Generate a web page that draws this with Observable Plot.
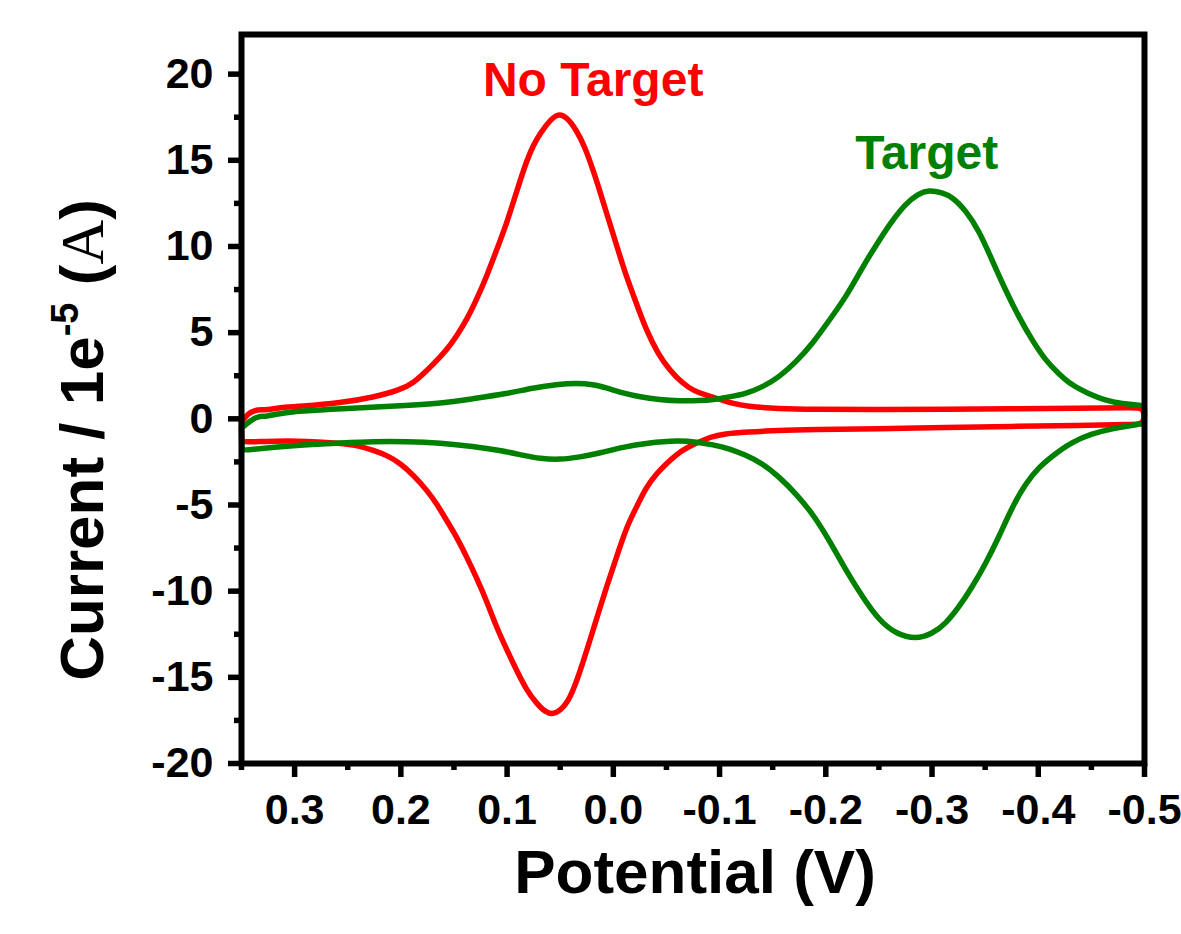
<!DOCTYPE html>
<html>
<head>
<meta charset="utf-8">
<script src="https://cdn.jsdelivr.net/npm/d3@7"></script>
<script src="https://cdn.jsdelivr.net/npm/@observablehq/plot@0.6"></script>
<style>
  html, body { margin: 0; padding: 0; background: #fff; }
</style>
</head>
<body>
<div id="chart"></div>
<script>
// ---- Data (potential in V, current in 1e-5 A) ----
// "No Target" cyclic voltammogram: upper branch left→right, then lower branch right→left
const noTargetV = [0.35, 0.3485, 0.344, 0.338, 0.331, 0.322, 0.316, 0.294, 0.2568, 0.2255, 0.2005, 0.188, 0.179, 0.169, 0.157, 0.147, 0.138, 0.1285, 0.119, 0.110, 0.100, 0.091, 0.0815, 0.0753, 0.069, 0.0596, 0.0518, 0.044, 0.0346, 0.0268, 0.019, 0.011, 0.0033, -0.0045, -0.0124, -0.0218, -0.031, -0.042, -0.053, -0.0656, -0.075, -0.0875, -0.100, -0.112, -0.125, -0.156, -0.187, -0.25, -0.313, -0.375, -0.438, -0.49, -0.5,
  -0.5, -0.49, -0.438, -0.375, -0.313, -0.25, -0.1876, -0.156, -0.125, -0.105, -0.091, -0.077, -0.0625, -0.050, -0.0406, -0.031, -0.0218, -0.0124, -0.003, 0.0064, 0.0143, 0.0221, 0.030, 0.0377, 0.044, 0.050, 0.0565, 0.064, 0.072, 0.0815, 0.091, 0.100, 0.110, 0.119, 0.1285, 0.138, 0.147, 0.157, 0.166, 0.1754, 0.188, 0.200, 0.213, 0.2255, 0.241, 0.257, 0.288, 0.319, 0.3475, 0.35, 0.35];
const noTargetI = [-0.2, -0.09, 0.30, 0.49, 0.53, 0.53, 0.65, 0.72, 0.92, 1.25, 1.68, 2.1, 2.6, 3.2, 3.98, 4.85, 5.75, 6.95, 8.3, 9.78, 11.4, 13.2, 15.0, 15.88, 16.56, 17.33, 17.72, 17.52, 16.75, 15.78, 14.43, 12.88, 11.33, 9.78, 8.23, 6.69, 5.14, 3.78, 2.82, 2.04, 1.65, 1.36, 1.14, 0.9, 0.72, 0.59, 0.55, 0.53, 0.55, 0.58, 0.62, 0.65, 0.65,
  -0.32, -0.33, -0.38, -0.44, -0.51, -0.57, -0.63, -0.67, -0.77, -0.86, -1.05, -1.44, -1.9, -2.6, -3.18, -3.96, -5.12, -6.28, -8.02, -9.76, -11.31, -12.86, -14.41, -15.76, -16.53, -16.92, -17.15, -17.02, -16.53, -15.76, -14.6, -13.44, -12.09, -10.6, -9.25, -8.02, -6.9, -5.89, -4.95, -4.15, -3.28, -2.6, -2.12, -1.83, -1.54, -1.42, -1.29, -1.29, -1.35, -1.3, -0.2];

// "Target" cyclic voltammogram
const targetV = [0.35, 0.3485, 0.341, 0.335, 0.326, 0.316, 0.294, 0.2568, 0.2099, 0.1629, 0.1317, 0.1003, 0.0753, 0.0533, 0.0345, 0.019, 0.0064, -0.0092, -0.0249, -0.0437, -0.0624, -0.0812, -0.094, -0.109, -0.125, -0.1407, -0.1563, -0.172, -0.1876, -0.2033, -0.219, -0.2346, -0.2502, -0.2627, -0.2753, -0.2862, -0.2972, -0.3097, -0.3191, -0.3316, -0.3441, -0.3566, -0.3692, -0.3817, -0.3942, -0.4067, -0.4192, -0.4317, -0.4474, -0.4631, -0.4787, -0.4975, -0.5,
  -0.5, -0.4975, -0.4693, -0.4505, -0.4317, -0.4161, -0.4005, -0.388, -0.3754, -0.3629, -0.3504, -0.3378, -0.3254, -0.3129, -0.3003, -0.2847, -0.2659, -0.2502, -0.2346, -0.219, -0.2033, -0.1876, -0.172, -0.1563, -0.1407, -0.125, -0.1094, -0.0937, -0.0781, -0.0624, -0.0312, -0.0092, 0.0127, 0.0315, 0.0502, 0.069, 0.0847, 0.1066, 0.1316, 0.1629, 0.1942, 0.2255, 0.2568, 0.2881, 0.3194, 0.3476, 0.35, 0.35];
const targetI = [-0.5, -0.47, -0.09, 0.14, 0.14, 0.30, 0.45, 0.59, 0.72, 0.88, 1.17, 1.46, 1.79, 2.0, 2.08, 2.0, 1.79, 1.5, 1.27, 1.11, 1.03, 1.05, 1.11, 1.27, 1.46, 1.85, 2.43, 3.3, 4.37, 5.72, 7.07, 8.81, 10.36, 11.52, 12.49, 13.03, 13.3, 13.11, 12.88, 12.1, 10.94, 9.2, 7.46, 5.91, 4.56, 3.4, 2.62, 1.94, 1.46, 1.07, 0.88, 0.78, 0.77,
  -0.27, -0.28, -0.57, -0.86, -1.35, -2.02, -2.8, -3.76, -5.12, -6.86, -8.41, -9.76, -10.92, -11.89, -12.47, -12.8, -12.47, -11.7, -10.34, -8.8, -7.05, -5.5, -4.35, -3.38, -2.6, -2.12, -1.73, -1.5, -1.35, -1.25, -1.4, -1.64, -1.99, -2.22, -2.37, -2.31, -2.12, -1.83, -1.6, -1.4, -1.31, -1.31, -1.4, -1.5, -1.64, -1.83, -1.8, -0.5];

const seriesNames = ["No Target", "Target"];
const seriesColors = ["#ff0000", "#008000"];
const labelV = [0.019, -0.295];
const labelI = [19.65, 15.4];

const xTicks = [0.3, 0.2, 0.1, 0.0, -0.1, -0.2, -0.3, -0.4, -0.5];
const xMinorTicks = [0.35, 0.25, 0.15, 0.05, -0.05, -0.15, -0.25, -0.35, -0.45];
const yTicks = [-20, -15, -10, -5, 0, 5, 10, 15, 20];
const yMinorTicks = [-17.5, -12.5, -7.5, -2.5, 2.5, 7.5, 12.5, 17.5];

// ---- Build tables ----
const noTarget = noTargetV.map((v, i) => ({v, c: noTargetI[i]}));
const target = targetV.map((v, i) => ({v, c: targetI[i]}));
const labels = seriesNames.map((name, i) => ({name, v: labelV[i], c: labelI[i], color: seriesColors[i]}));

const fmt = d => (d < 0 ? "-" : "") + Math.abs(d).toFixed(1);
const FONT = "'Liberation Sans', Arial, Helvetica, sans-serif";

const chart = Plot.plot({
  width: 1181,
  height: 934,
  marginLeft: 241,
  marginRight: 37,
  marginTop: 34,
  marginBottom: 171,
  style: {fontFamily: FONT, fontWeight: "bold", fontSize: "42px", color: "black", background: "white"},
  x: {domain: [0.35, -0.5], label: null},
  y: {domain: [-20, 22.3], label: null},
  marks: [
    Plot.line(noTarget, {x: "v", y: "c", stroke: seriesColors[0], strokeWidth: 5.5, curve: "basis"}),
    Plot.line(target, {x: "v", y: "c", stroke: seriesColors[1], strokeWidth: 5.5, curve: "basis"}),
    Plot.text(labels, {x: "v", y: "c", text: "name", fill: "color", fontSize: 48, fontWeight: "bold", fontFamily: FONT}),
    Plot.axisX({ticks: xTicks, tickFormat: fmt, tickSize: 14, tickPadding: 16, strokeWidth: 5.5, fontSize: 43, fontWeight: "bold", label: null}),
    Plot.axisX({ticks: xMinorTicks, tickFormat: () => "", tickSize: 7, strokeWidth: 5.5, label: null}),
    Plot.axisY({ticks: yTicks, tickFormat: d => String(d), tickSize: 13, tickPadding: 15, strokeWidth: 5.5, fontSize: 43, fontWeight: "bold", label: null}),
    Plot.axisY({ticks: yMinorTicks, tickFormat: () => "", tickSize: 7, strokeWidth: 5.5, label: null}),
    Plot.frame({stroke: "black", strokeWidth: 6})
  ]
});

const svg = d3.select(chart);
// y axis title
const yt = svg.append("text")
  .attr("transform", "translate(103,440) rotate(-90)")
  .attr("text-anchor", "middle")
  .attr("font-family", FONT)
  .attr("font-weight", "bold")
  .attr("font-size", 62)
  .attr("fill", "black");
yt.append("tspan").text("Current / 1e");
yt.append("tspan").attr("dy", -25).attr("font-size", 38).text("-5");
yt.append("tspan").attr("dy", 25).text(" (");
yt.append("tspan").attr("font-family", "'Liberation Serif', 'DejaVu Serif', serif").attr("font-weight", "normal").text("A");
yt.append("tspan").text(")");
// x axis title
svg.append("text")
  .attr("x", 695)
  .attr("y", 893)
  .attr("text-anchor", "middle")
  .attr("font-family", FONT)
  .attr("font-weight", "bold")
  .attr("font-size", 62)
  .attr("fill", "black")
  .text("Potential (V)");

document.getElementById("chart").appendChild(chart);
</script>
</body>
</html>
